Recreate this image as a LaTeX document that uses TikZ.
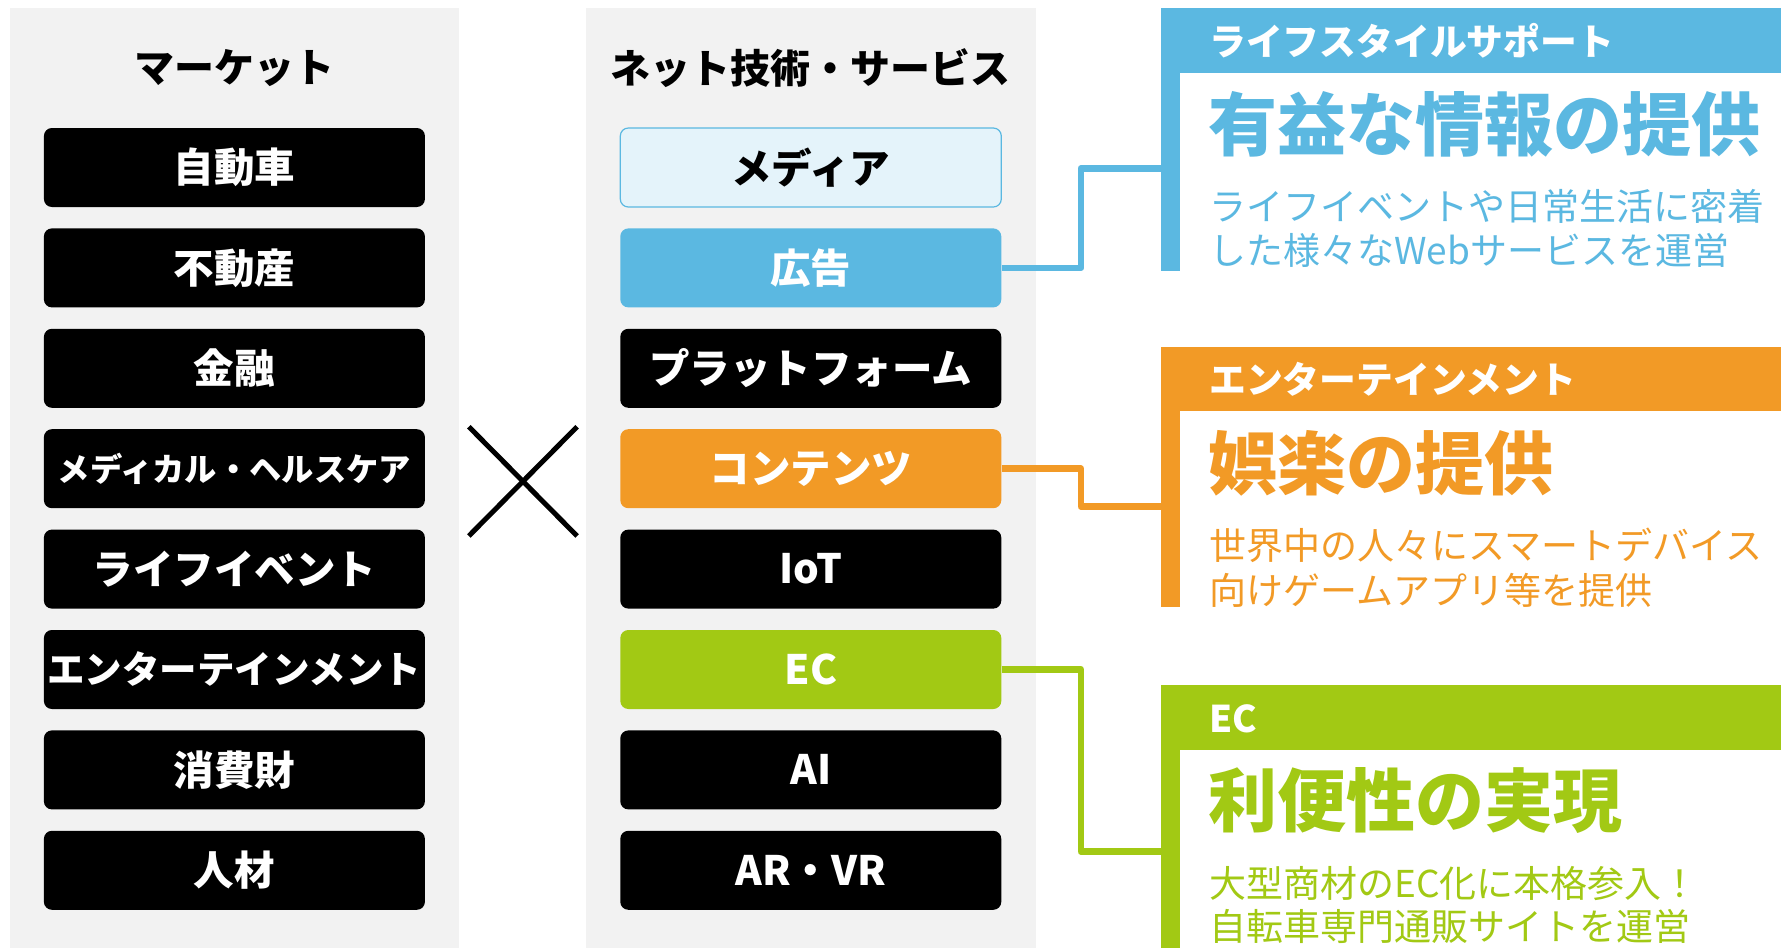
\documentclass[tikz,border=0pt]{standalone}
\usepackage{fontspec}
\setmainfont{Noto Sans CJK JP}
\definecolor{pgray}{RGB}{242,242,242}
\definecolor{cblue}{RGB}{91,184,225}
\definecolor{cltblue}{RGB}{228,243,250}
\definecolor{corange}{RGB}{242,154,38}
\definecolor{cgreen}{RGB}{162,201,20}
\newcommand{\fsz}[1]{\fontsize{#1}{#1}\selectfont}
\begin{document}
\begin{tikzpicture}[x=1pt,y=-1pt,
  mbox/.style={rounded corners=8pt, minimum width=381pt, minimum height=79pt, inner sep=0pt, fill=black, text=white, font=\bfseries\fsz{40.5}},
  ttl/.style={inner sep=0pt, font=\bfseries\fsz{40}},
  hdr/.style={anchor=west, inner sep=0pt, text=white, font=\bfseries\fsz{36.8}},
  head/.style={anchor=west, inner sep=0pt, font=\bfseries\fsz{69}},
  body/.style={anchor=west, inner sep=0pt, font=\fsz{37}},
  conn/.style={line width=6.5pt, line join=round}
]
\useasboundingbox (0,0) rectangle (1781,948);
\fill[white] (0,0) rectangle (1781,948);
% panels
\fill[pgray] (9.5,8.3) rectangle (459,948);
\fill[pgray] (585.7,8.3) rectangle (1036,948);
\node[ttl] (t1) at (234.3,68) {マーケット};
\node[ttl] (t2) at (810.8,68) {ネット技術・サービス};
% left boxes
\node[mbox] (m1) at (234.4,167.5) {自動車};
\node[mbox] (m2) at (234.4,267.9) {不動産};
\node[mbox] (m3) at (234.4,368.3) {金融};
\node[mbox,font=\bfseries\fsz{32.3}] (m4) at (234.4,468.7) {メディカル・ヘルスケア};
\node[mbox] (m5) at (234.4,569.1) {ライフイベント};
\node[mbox,font=\bfseries\fsz{37.5}] (m6) at (234.4,669.5) {エンターテインメント};
\node[mbox] (m7) at (234.4,769.9) {消費財};
\node[mbox] (m8) at (234.4,870.3) {人材};
% middle boxes
\node[mbox,fill=cltblue,draw=cblue,line width=1.2pt,text=black] (md) at (810.8,167.5) {メディア};
\node[mbox,fill=cblue] (ad) at (810.8,267.9) {広告};
\node[mbox] (pf) at (810.8,368.3) {プラットフォーム};
\node[mbox,fill=corange] (cn) at (810.8,468.7) {コンテンツ};
\node[mbox] (iot) at (810.8,569.1) {IoT};
\node[mbox,fill=cgreen] (ec) at (810.8,669.5) {EC};
\node[mbox] (ai) at (810.8,769.9) {AI};
\node[mbox] (arvr) at (810.8,870.3) {AR・VR};
% cross
\draw[line width=5pt] (468.8,426.7) -- (577.1,536);
\draw[line width=5pt] (577.1,426.7) -- (468.8,536);
% right panels
\fill[cblue] (1161,8.3) rectangle (1781,72.7);
\fill[cblue] (1161,8.3) rectangle (1179.7,270.7);
\fill[corange] (1161,346.7) rectangle (1781,410.7);
\fill[corange] (1161,346.7) rectangle (1179.7,607.3);
\fill[cgreen] (1161,685) rectangle (1781,750);
\fill[cgreen] (1161,685) rectangle (1179.7,948);
% connector junctions
\coordinate (bk) at (1081,168.3);
\coordinate (bj) at (1162,168.3);
\coordinate (ok) at (1081,506.7);
\coordinate (oj) at (1162,506.7);
\coordinate (gk) at (1081,851.7);
\coordinate (gj) at (1162,851.7);
\draw[conn,cblue] (ad.east) -| (bk) -- (bj);
\draw[conn,corange] (cn.east) -| (ok) -- (oj);
\draw[conn,cgreen] (ec.east) -| (gk) -- (gj);
% blue panel text
\node[hdr] (bh) at (1209,41) {ライフスタイルサポート};
\node[head,text=cblue] (bt) at (1208,124.5) {有益な情報の提供};
\node[body,text=cblue] (bb1) at (1209,206) {ライフイベントや日常生活に密着};
\node[body,text=cblue] (bb2) at (1209,250) {した様々なWebサービスを運営};
% orange panel text
\node[hdr] (oh) at (1209,379) {エンターテインメント};
\node[head,text=corange] (ot) at (1208,463.5) {娯楽の提供};
\node[body,text=corange] (ob1) at (1209,545) {世界中の人々にスマートデバイス};
\node[body,text=corange] (ob2) at (1209,590) {向けゲームアプリ等を提供};
% green panel text
\node[hdr] (gh) at (1209,718.5) {EC};
\node[head,text=cgreen] (gt) at (1208,800.5) {利便性の実現};
\node[body,text=cgreen] (gb1) at (1209,883.5) {大型商材のEC化に本格参入！};
\node[body,text=cgreen] (gb2) at (1209,926.5) {自転車専門通販サイトを運営};
\end{tikzpicture}
\end{document}
